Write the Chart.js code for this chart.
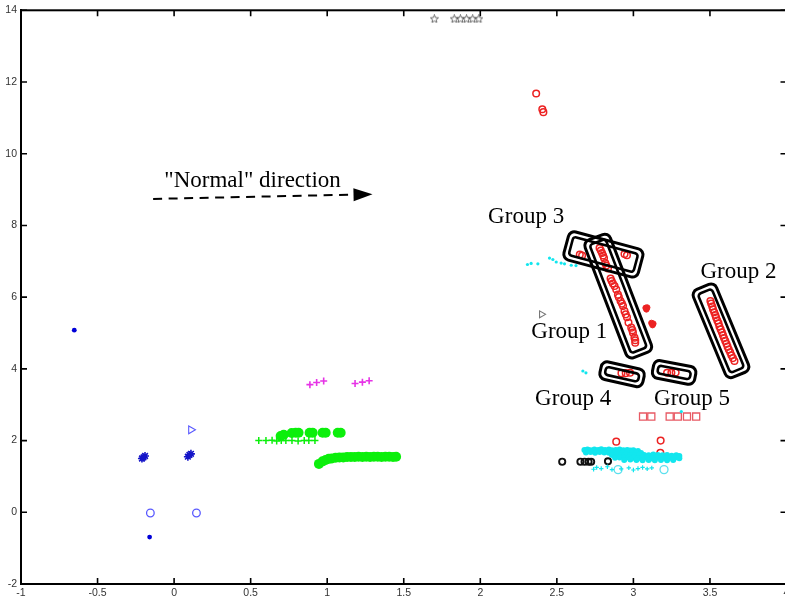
<!DOCTYPE html>
<html><head><meta charset="utf-8">
<script src="https://cdn.jsdelivr.net/npm/chart.js@4.4.0/dist/chart.umd.min.js"></script>
<style>
html,body{margin:0;padding:0;background:#fff;overflow:hidden;width:785px;height:601px}
#wrap{position:relative;width:800px;height:601px}
</style></head>
<body><div id="wrap"><canvas id="c" width="800" height="601"></canvas></div>
<script>
// ---------- tick labels ----------
const xTicks = [-1,-0.5,0,0.5,1,1.5,2,2.5,3,3.5,4];
const yTicks = [-2,0,2,4,6,8,10,12,14];

// ---------- series (x, y) ----------
const cyanBand = [
 [2.68,1.74],[2.70,1.75],[2.72,1.73],[2.745,1.75],[2.77,1.74],[2.79,1.76],[2.815,1.74],[2.84,1.75],[2.86,1.73],[2.885,1.74],[2.91,1.75],[2.935,1.73],[2.96,1.74],[2.98,1.72],[3.00,1.73],[3.03,1.71],
 [2.69,1.67],[2.72,1.68],[2.75,1.66],[2.78,1.68],[2.81,1.67],[2.84,1.66],[2.87,1.68],[2.90,1.67],[2.93,1.66],[2.96,1.67],[2.99,1.66],[3.02,1.67],[3.05,1.65],
 [2.86,1.60],[2.89,1.61],[2.92,1.59],[2.95,1.61],[2.98,1.60],[3.01,1.59],[3.04,1.61],[3.07,1.60],[3.10,1.59],[3.13,1.61],[3.16,1.60],[3.19,1.59],[3.22,1.60],[3.25,1.58],[3.28,1.59],[3.30,1.57],
 [2.88,1.52],[2.91,1.53],[2.94,1.52],[2.97,1.53],[3.00,1.52],[3.03,1.51],[3.06,1.53],[3.09,1.52],[3.12,1.51],[3.15,1.53],[3.18,1.52],[3.21,1.51],[3.24,1.52],[3.27,1.52],[3.30,1.51],
 [2.94,1.46],[2.98,1.47],[3.02,1.46],[3.06,1.45],[3.10,1.46],[3.14,1.45],[3.18,1.46],[3.22,1.45],[3.26,1.46]
];
const cyanPlus = [[2.74,1.20],[2.76,1.25],[2.79,1.22],[2.83,1.27],[2.86,1.19],[2.92,1.21],[2.97,1.24],[3.00,1.18],[3.03,1.22],[3.06,1.25],[3.09,1.21],[3.12,1.24]];
const cyanDots = [[2.308,6.91],[2.332,6.94],[2.376,6.93],[2.452,7.09],[2.474,7.05],[2.496,6.98],[2.528,6.95],[2.55,6.93],[2.594,6.89],[2.625,6.88],[2.67,3.94],[2.69,3.89],[3.313,2.81]];
const cyanCircles = [[2.90,1.19],[3.20,1.19]];
const greenPlus = [[0.553,2.00],[0.60,2.00],[0.64,2.01],[0.67,1.99],[0.70,2.00],[0.73,2.00],[0.77,2.00],[0.81,1.99],[0.85,2.00],[0.88,2.00],[0.92,2.00]];
const greenCircles = [
 [0.696,2.13],[0.716,2.16],[0.768,2.21],[0.794,2.22],[0.813,2.22],[0.885,2.22],[0.905,2.22],[0.970,2.22],[0.990,2.22],[1.069,2.22],[1.088,2.22],
 [0.946,1.35],[0.970,1.42],[0.990,1.46],[1.010,1.49],[1.030,1.50],[1.055,1.52],[1.080,1.53],[1.105,1.53],[1.130,1.54],[1.155,1.54],[1.180,1.54],[1.205,1.55],[1.230,1.54],[1.255,1.55],[1.280,1.54],[1.305,1.55],[1.330,1.55],[1.355,1.54],[1.380,1.55],[1.405,1.55],[1.430,1.54],[1.450,1.55]
];
const magentaPlus = [[0.887,3.56],[0.931,3.62],[0.977,3.66],[1.182,3.59],[1.230,3.63],[1.274,3.67]];
const blueDots = [[-0.652,5.08],[-0.160,-0.69]];
const blueStars = [[-0.21,1.50],[-0.19,1.57],[-0.20,1.53],[0.09,1.55],[0.10,1.60],[0.11,1.63]];
const blueTriangles = [[0.11,2.30]];
const blueCircles = [[-0.155,-0.02],[0.146,-0.02]];
const grayTriangles = [[2.40,5.52]];
const blackCircles = [[2.535,1.41],[2.654,1.41],[2.681,1.41],[2.707,1.41],[2.724,1.41],[2.834,1.42]];
const redSquares = [[3.063,2.67],[3.117,2.67],[3.237,2.67],[3.290,2.67],[3.350,2.67],[3.410,2.67]];
const redCircles = [
 [2.365,11.68],[2.405,11.24],[2.412,11.16],
 [2.650,7.19],[2.665,7.16],[2.942,7.20],[2.958,7.17],
 [2.779,7.37],[2.787,7.30],[2.795,7.23],[2.802,7.16],[2.808,7.09],[2.816,6.95],[2.823,6.88],[2.834,6.80],[2.851,6.52],[2.858,6.45],[2.866,6.38],[2.877,6.31],[2.888,6.21],[2.899,6.07],[2.905,6.00],[2.916,5.89],[2.925,5.82],[2.932,5.75],[2.942,5.61],[2.950,5.52],[2.958,5.44],[2.968,5.29],[2.986,5.15],[2.993,5.08],[2.997,5.01],[3.007,4.87],[3.012,4.80],[3.012,4.73],
 [3.503,5.89],[3.508,5.82],[3.515,5.74],[3.520,5.66],[3.528,5.58],[3.535,5.50],[3.540,5.43],[3.548,5.35],[3.556,5.27],[3.562,5.18],[3.570,5.10],[3.578,5.02],[3.585,4.94],[3.592,4.86],[3.600,4.78],[3.608,4.70],[3.615,4.62],[3.623,4.54],[3.632,4.46],[3.640,4.38],[3.650,4.30],[3.660,4.22],
 [2.922,3.88],[2.950,3.88],[2.978,3.89],[3.220,3.89],[3.248,3.89],[3.276,3.90],
 [2.888,1.97],[3.178,2.00],[3.176,1.66]
];
const redFilled = [[3.080,5.70],[3.090,5.71],[3.085,5.66],[3.118,5.28],[3.125,5.22],[3.130,5.26]];
const grayStars = [[1.70,13.76],[1.83,13.76],[1.87,13.76],[1.91,13.76],[1.95,13.76],[1.99,13.76]];

// ---------- annotations (data coords) ----------
const groupLabels = [
 {text:'Group 3', x:2.051, y:8.06},
 {text:'Group 1', x:2.333, y:4.87},
 {text:'Group 2', x:3.438, y:6.54},
 {text:'Group 4', x:2.358, y:2.99},
 {text:'Group 5', x:3.135, y:2.99},
 {text:'"Normal" direction', x:-0.064, y:9.08}
];
const groupBoxes = [
 {x:2.804, y:7.19, len:80, wid:32, ang:15},
 {x:2.901, y:6.03, len:129, wid:30, ang:69},
 {x:3.572, y:5.06, len:98, wid:28, ang:67.5},
 {x:2.926, y:3.85, len:47, wid:21, ang:12.5},
 {x:3.266, y:3.90, len:46, wid:21, ang:11}
];
const arrowFrom = {x:-0.137, y:8.74};
const arrowTo = {x:1.296, y:8.87};

// ---------- helpers ----------
const pts = a => a.map(p => ({x:p[0], y:p[1]}));
function pentagram(){
  const c = document.createElement('canvas'); c.width = 9; c.height = 9;
  const g = c.getContext('2d'); g.strokeStyle = '#555'; g.lineWidth = 0.9; g.beginPath();
  for (let i = 0; i < 10; i++) {
    const r = i % 2 ? 1.9 : 4.2, a = -Math.PI/2 + i*Math.PI/5;
    const px = 4.5 + r*Math.cos(a), py = 4.7 + r*Math.sin(a);
    i ? g.lineTo(px, py) : g.moveTo(px, py);
  }
  g.closePath(); g.stroke(); return c;
}
function ds(data, o){
  return Object.assign({data: pts(data), showLine:false, pointHoverRadius:0}, o);
}

const framePlugin = {
  id:'frame',
  afterDraw(chart){
    const {ctx, chartArea:a, scales:{x, y}} = chart;
    ctx.save();
    ctx.strokeStyle = '#000'; ctx.lineWidth = 2;
    ctx.strokeRect(a.left, a.top, a.right - a.left, a.bottom - a.top);
    ctx.lineWidth = 1.6; ctx.beginPath();
    xTicks.forEach(v => { const px = x.getPixelForValue(v);
      ctx.moveTo(px, a.bottom); ctx.lineTo(px, a.bottom - 6);
      ctx.moveTo(px, a.top); ctx.lineTo(px, a.top + 6); });
    yTicks.forEach(v => { const py = y.getPixelForValue(v);
      ctx.moveTo(a.left, py); ctx.lineTo(a.left + 6, py);
      ctx.moveTo(a.right, py); ctx.lineTo(a.right - 6, py); });
    ctx.stroke();
    ctx.restore();
  }
};
const annotPlugin = {
  id:'annot',
  afterDatasetsDraw(chart){
    const {ctx, scales:{x, y}} = chart;
    ctx.save();
    ctx.strokeStyle = '#000';
    groupBoxes.forEach(b => {
      ctx.save();
      ctx.translate(x.getPixelForValue(b.x), y.getPixelForValue(b.y));
      ctx.rotate(b.ang*Math.PI/180);
      ctx.lineWidth = 3;
      ctx.beginPath(); ctx.roundRect(-b.len/2+1.5, -b.wid/2+1.5, b.len-3, b.wid-3, 6); ctx.stroke();
      ctx.lineWidth = 2.6;
      ctx.beginPath(); ctx.roundRect(-b.len/2+6.5, -b.wid/2+6.5, b.len-13, b.wid-13, 3); ctx.stroke();
      ctx.restore();
    });
    ctx.fillStyle = '#000';
    ctx.font = '23px "Liberation Serif", "Times New Roman", serif';
    ctx.textBaseline = 'alphabetic'; ctx.textAlign = 'left';
    groupLabels.forEach(l => ctx.fillText(l.text, x.getPixelForValue(l.x), y.getPixelForValue(l.y)));
    // arrow
    const x0 = x.getPixelForValue(arrowFrom.x), y0 = y.getPixelForValue(arrowFrom.y);
    const x1 = x.getPixelForValue(arrowTo.x), y1 = y.getPixelForValue(arrowTo.y);
    const ang = Math.atan2(y1 - y0, x1 - x0), head = 19, hw = 6.5;
    const bx = x1 - head*Math.cos(ang), by = y1 - head*Math.sin(ang);
    ctx.lineWidth = 2; ctx.setLineDash([9, 6.5]);
    ctx.beginPath(); ctx.moveTo(x0, y0); ctx.lineTo(bx, by); ctx.stroke();
    ctx.setLineDash([]);
    ctx.beginPath(); ctx.moveTo(x1, y1);
    ctx.lineTo(bx + hw*Math.sin(ang), by - hw*Math.cos(ang));
    ctx.lineTo(bx - hw*Math.sin(ang), by + hw*Math.cos(ang));
    ctx.closePath(); ctx.fill();
    ctx.restore();
  }
};

const tickFont = {family:'"Liberation Sans Narrow", "Liberation Sans", Arial, sans-serif', size:10.5};
const CYAN = '#12e6ee', GREEN = '#0cef0c', RED = '#ec2222';

new Chart(document.getElementById('c'), {
  type:'scatter',
  data:{datasets:[
    ds(cyanBand,   {pointStyle:'circle', pointRadius:3, backgroundColor:CYAN, borderColor:CYAN, borderWidth:0}),
    ds(cyanPlus,   {pointStyle:'cross', pointRadius:2.2, borderColor:CYAN, borderWidth:1.2}),
    ds(cyanDots,   {pointStyle:'circle', pointRadius:1.6, backgroundColor:CYAN, borderColor:CYAN, borderWidth:0}),
    ds(cyanCircles,{pointStyle:'circle', pointRadius:4, backgroundColor:'rgba(0,0,0,0)', borderColor:'#5ee0ee', borderWidth:1.3}),
    ds(greenPlus,  {pointStyle:'cross', pointRadius:3.5, borderColor:GREEN, borderWidth:1.5}),
    ds(greenCircles,{pointStyle:'circle', pointRadius:5, backgroundColor:GREEN, borderColor:GREEN, borderWidth:0}),
    ds(magentaPlus,{pointStyle:'cross', pointRadius:3.5, borderColor:'#e633e6', borderWidth:1.6}),
    ds(blueDots,   {pointStyle:'circle', pointRadius:2.4, backgroundColor:'#0000d8', borderColor:'#0000d8', borderWidth:0}),
    ds(blueStars,  {pointStyle:'star', pointRadius:4, borderColor:'#1515c8', borderWidth:1.6}),
    ds(blueTriangles,{pointStyle:'triangle', rotation:90, pointRadius:4.5, backgroundColor:'rgba(0,0,0,0)', borderColor:'#5a5aff', borderWidth:1.1}),
    ds(blueCircles,{pointStyle:'circle', pointRadius:3.8, backgroundColor:'rgba(0,0,0,0)', borderColor:'#5a5aff', borderWidth:1.3}),
    ds(grayTriangles,{pointStyle:'triangle', rotation:90, pointRadius:4, backgroundColor:'rgba(0,0,0,0)', borderColor:'#777', borderWidth:1.1}),
    ds(blackCircles,{pointStyle:'circle', pointRadius:3.1, backgroundColor:'rgba(0,0,0,0)', borderColor:'#111', borderWidth:1.9}),
    ds(redSquares, {pointStyle:'rect', pointRadius:5, backgroundColor:'rgba(0,0,0,0)', borderColor:'#e85a64', borderWidth:1.3}),
    ds(redCircles, {pointStyle:'circle', pointRadius:3.3, backgroundColor:'rgba(0,0,0,0)', borderColor:RED, borderWidth:1.5}),
    ds(redFilled,  {pointStyle:'circle', pointRadius:2.8, backgroundColor:RED, borderColor:RED, borderWidth:1}),
    ds(grayStars,  {pointStyle:pentagram(), pointRadius:4.5})
  ]},
  options:{
    responsive:false, animation:false, devicePixelRatio:1,
    layout:{padding:{top:8, right:13.5, left:0, bottom:0}},
    plugins:{legend:{display:false}, tooltip:{enabled:false}},
    events:[],
    scales:{
      x:{type:'linear', min:-1, max:4,
        afterBuildTicks:s => { s.ticks = xTicks.map(v => ({value:v})); },
        afterFit:s => { s.height = 17; },
        ticks:{font:tickFont, color:'#333', padding:3, maxRotation:0, autoSkip:false, callback:v => String(v)},
        grid:{display:false, drawTicks:false}, border:{display:true, color:'#000', width:2}},
      y:{type:'linear', min:-2, max:14,
        afterBuildTicks:s => { s.ticks = yTicks.map(v => ({value:v})); },
        afterFit:s => { s.width = 21; },
        ticks:{font:tickFont, color:'#333', padding:4, autoSkip:false, callback:v => String(v)},
        grid:{display:false, drawTicks:false}, border:{display:true, color:'#000', width:2}}
    }
  },
  plugins:[annotPlugin, framePlugin]
});
</script></body></html>
